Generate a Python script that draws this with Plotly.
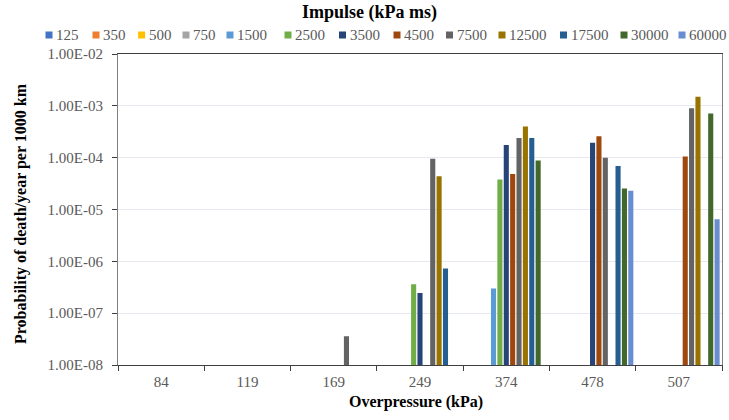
import plotly.graph_objects as go

categories = ["84", "119", "169", "249", "374", "478", "507"]
series_names = ["125", "350", "500", "750", "1500", "2500", "3500", "4500",
                "7500", "12500", "17500", "30000", "60000"]
colors = ["#4472C4", "#ED7D31", "#FFC000", "#A5A5A5", "#5B9BD5", "#70AD47",
          "#264478", "#9E480E", "#636363", "#997300", "#255E91", "#43682B", "#698ED0"]

N = None
v125 = [N, N, N, N, N, N, N]
v350 = [N, N, N, N, N, N, N]
v500 = [N, N, N, N, N, N, N]
v750 = [N, N, N, N, N, N, N]
v1500 = [N, N, N, N, 3.0e-7, N, N]
v2500 = [N, N, N, 3.6e-7, 3.8e-5, N, N]
v3500 = [N, N, N, 2.45e-7, 1.75e-4, 1.95e-4, N]
v4500 = [N, N, N, N, 4.85e-5, 2.6e-4, 1.05e-4]
v7500 = [N, N, 3.6e-8, 9.5e-5, 2.4e-4, 1.0e-4, 9.0e-4]
v12500 = [N, N, N, 4.4e-5, 4.0e-4, N, 1.5e-3]
v17500 = [N, N, N, 7.3e-7, 2.4e-4, 6.9e-5, N]
v30000 = [N, N, N, N, 8.8e-5, 2.55e-5, 7.1e-4]
v60000 = [N, N, N, N, N, 2.3e-5, 6.5e-6]
series_values = [v125, v350, v500, v750, v1500, v2500, v3500, v4500,
                 v7500, v12500, v17500, v30000, v60000]

ytick_vals = [1e-8, 1e-7, 1e-6, 1e-5, 1e-4, 1e-3, 1e-2]
ytick_text = ["1.00E-08", "1.00E-07", "1.00E-06", "1.00E-05",
              "1.00E-04", "1.00E-03", "1.00E-02"]

# layout geometry (pixels)
W, H = 729, 420
L, R, T, B = 118, 7, 54, 55
pw, ph = W - L - R, H - T - B


def px2x(px):
    return (px - L) / pw


def py2y(py):
    return (H - B - py) / ph


FONT = "Liberation Serif, Times New Roman, serif"

fig = go.Figure()
for name, vals, col in zip(series_names, series_values, colors):
    fig.add_trace(go.Bar(
        x=categories, y=vals, name=name,
        marker=dict(color=col, line=dict(width=0)),
        showlegend=False,
    ))

annotations = []
shapes = []

# Title
annotations.append(dict(text="<b>Impulse (kPa ms)</b>", x=px2x(369), y=py2y(13),
                        xref="paper", yref="paper", showarrow=False,
                        font=dict(family=FONT, size=18, color="black"),
                        xanchor="center", yanchor="middle"))

# Custom one-row legend
legend_sq_x = [49, 96, 141.6, 186, 230, 288, 342.5, 397, 449.5, 502, 563.5, 624, 682]
legend_y = 35
for name, col, sx in zip(series_names, colors, legend_sq_x):
    shapes.append(dict(type="rect", xref="paper", yref="paper",
                       xsizemode="pixel", ysizemode="pixel",
                       xanchor=px2x(sx), yanchor=py2y(legend_y),
                       x0=-3.5, x1=3.5, y0=-3.5, y1=3.5,
                       fillcolor=col, line=dict(width=0)))
    annotations.append(dict(text=name, x=px2x(sx + 5), y=py2y(legend_y),
                            xref="paper", yref="paper", showarrow=False,
                            font=dict(family=FONT, size=15, color="#595959"),
                            xanchor="left", yanchor="middle"))

# Axis titles
annotations.append(dict(text="<b>Probability of death/year per 1000 km</b>",
                        x=px2x(21), y=py2y(214), xref="paper", yref="paper",
                        showarrow=False, textangle=-90,
                        font=dict(family=FONT, size=16, color="black"),
                        xanchor="center", yanchor="middle"))
annotations.append(dict(text="<b>Overpressure (kPa)</b>",
                        x=px2x(416), y=py2y(402), xref="paper", yref="paper",
                        showarrow=False,
                        font=dict(family=FONT, size=16, color="black"),
                        xanchor="center", yanchor="middle"))

fig.update_layout(
    width=W, height=H,
    margin=dict(l=L, r=R, t=T, b=B, pad=0),
    paper_bgcolor="white", plot_bgcolor="white",
    barmode="group", bargap=0.04, bargroupgap=0.2,
    showlegend=False,
    font=dict(family=FONT, size=15, color="#595959"),
    annotations=annotations, shapes=shapes,
)
fig.update_xaxes(
    type="category", categoryorder="array", categoryarray=categories,
    showline=True, linecolor="#404040", linewidth=1, mirror=True,
    ticks="outside", tickson="boundaries", ticklen=5, tickcolor="#404040",
    showgrid=False, tickfont=dict(family=FONT, size=15, color="#595959"),
    ticklabelstandoff=3,
)
fig.update_yaxes(
    type="log", range=[-8, -2],
    tickvals=ytick_vals, ticktext=ytick_text,
    showline=True, linecolor="#7f7f7f", linewidth=1, mirror=True,
    ticks="outside", ticklen=5, tickcolor="#404040",
    showgrid=True, gridcolor="#E6EAF0", gridwidth=1,
    tickfont=dict(family=FONT, size=15, color="#595959"),
    zeroline=False, ticklabelstandoff=6,
)

fig.write_html(
    "out.html",
    config={"displayModeBar": False},
    post_script="document.body.style.margin='0';document.body.style.overflow='hidden';",
)
